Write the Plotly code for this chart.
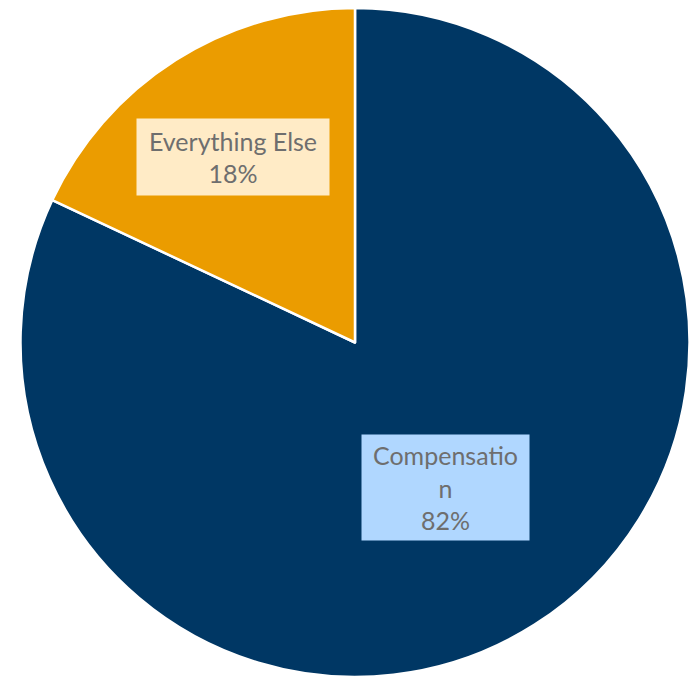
import plotly.graph_objects as go

labels = ["Compensation", "Everything Else"]
values = [82, 18]
colors = ["#003764", "#EB9C00"]
label_text = ["Compensatio<br>n<br>82%", "Everything Else<br>18%"]
label_bg = ["#B0D7FF", "#FFEBC6"]

fig = go.Figure(go.Pie(
    labels=labels, values=values, sort=False, direction="clockwise", rotation=0,
    marker=dict(colors=colors, line=dict(color="white", width=2.5)),
    textinfo="none", hoverinfo="label+percent", showlegend=False,
    domain=dict(x=[0.0289, 0.9986], y=[0.0, 0.9882]),
))

pos = [(0.6447, 0.2792, 159, 97), (0.3372, 0.7681, 184, 68)]
for t, bg, (x, y, w, h) in zip(label_text, label_bg, pos):
    fig.add_annotation(x=x, y=y, xref="paper", yref="paper", xanchor="center", yanchor="middle",
                       text=t, showarrow=False,
                       bgcolor=bg, borderpad=4, width=w, height=h, align="center",
                       font=dict(family="Lato, Noto Sans, sans-serif", size=25, color="#6E6E6E"))

fig.update_layout(width=691, height=677, margin=dict(l=0, r=0, t=0, b=0),
                  paper_bgcolor="white", plot_bgcolor="white")
fig.write_html("out.html", config={"displayModeBar": False},
               post_script="document.body.style.margin='0';document.body.style.overflow='hidden';")
